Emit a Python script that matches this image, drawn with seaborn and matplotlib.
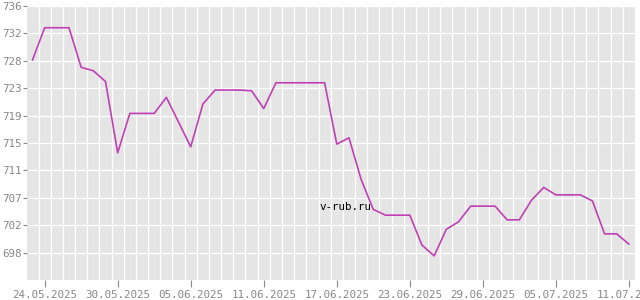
import numpy as np
import pandas as pd
import matplotlib
matplotlib.use("Agg")
import matplotlib.pyplot as plt
import matplotlib.dates as mdates
from matplotlib.ticker import FixedLocator, FuncFormatter
import seaborn as sns

# ---- data ----
start_date = "2025-05-23"
end_date = "2025-07-11"
rates = [
    728.27, 733.25, 733.25, 733.25, 727.15, 726.62, 724.96, 713.98, 720.05, 720.05,
    720.05, 722.52, 718.71, 714.90, 721.49, 723.65, 723.65, 723.65, 723.54, 720.80,
    724.77, 724.77, 724.77, 724.77, 724.77, 715.32, 716.29, 709.88, 705.25, 704.37,
    704.37, 704.37, 699.75, 698.10, 702.20, 703.34, 705.76, 705.76, 705.76, 703.65,
    703.65, 706.69, 708.64, 707.50, 707.50, 707.50, 706.58, 701.49, 701.49, 699.90,
]
dates = pd.date_range(start_date, end_date, freq="D")
x_tick_dates = pd.date_range("2025-05-24", "2025-07-11", freq="6D")
y_top = 736.6
y_step = 4.222
watermark = "v-rub.ru"

df = pd.DataFrame({"date": dates, "rate": rates})

# ---- style ----
sns.set_theme(style="darkgrid", rc={
    "axes.facecolor": "#e5e5e5",
    "grid.color": "white",
    "grid.linewidth": 0.9,
})
plt.rcParams["font.family"] = ["DejaVu Sans Mono", "DejaVu Sans"]

fig = plt.figure(figsize=(6.4, 3.0), dpi=100)
ax = fig.add_axes([27 / 640, 20 / 300, 608 / 640, 274 / 300])

sns.lineplot(data=df, x="date", y="rate", ax=ax, color="#c040b4", linewidth=1.2)

# y axis
y_bottom = y_top - 10 * y_step
ax.set_ylim(y_bottom, y_top)
yt = [y_top - k * y_step for k in range(0, 10)]
ax.yaxis.set_major_locator(FixedLocator(yt))
ax.yaxis.set_major_formatter(FuncFormatter(lambda v, p: f"{int(np.floor(v + 1e-9))}"))

# x axis
x0 = mdates.date2num(pd.Timestamp("2025-05-24")) - 1.45
x1 = mdates.date2num(pd.Timestamp("2025-05-24")) + 48.5
ax.set_xlim(x0, x1)
ax.set_xticks(mdates.date2num(x_tick_dates))
ax.xaxis.set_major_formatter(mdates.DateFormatter("%d.%m.%Y"))
ax.xaxis.set_minor_locator(mdates.HourLocator(byhour=12))

ax.grid(False, which="major", axis="x")
ax.grid(True, which="minor", axis="x", color="white", linewidth=0.9)
ax.grid(True, which="major", axis="y", color="white", linewidth=0.9)

ax.tick_params(axis="x", which="major", length=5, width=0.8, color="#888888",
               labelsize=7.8, labelcolor="#888888", pad=2, bottom=True)
ax.tick_params(axis="x", which="minor", length=0)
ax.tick_params(axis="y", which="major", length=3, width=0.8, color="#888888",
               labelsize=7.8, labelcolor="#888888", pad=1, left=True)

for s in ax.spines.values():
    s.set_visible(False)
ax.set_xlabel("")
ax.set_ylabel("")

fig.text(319 / 640, 1 - 207 / 300, watermark, ha="left", va="center",
         fontsize=7.8, color="black", family="DejaVu Sans Mono")

fig.savefig("out.png", dpi=100)
